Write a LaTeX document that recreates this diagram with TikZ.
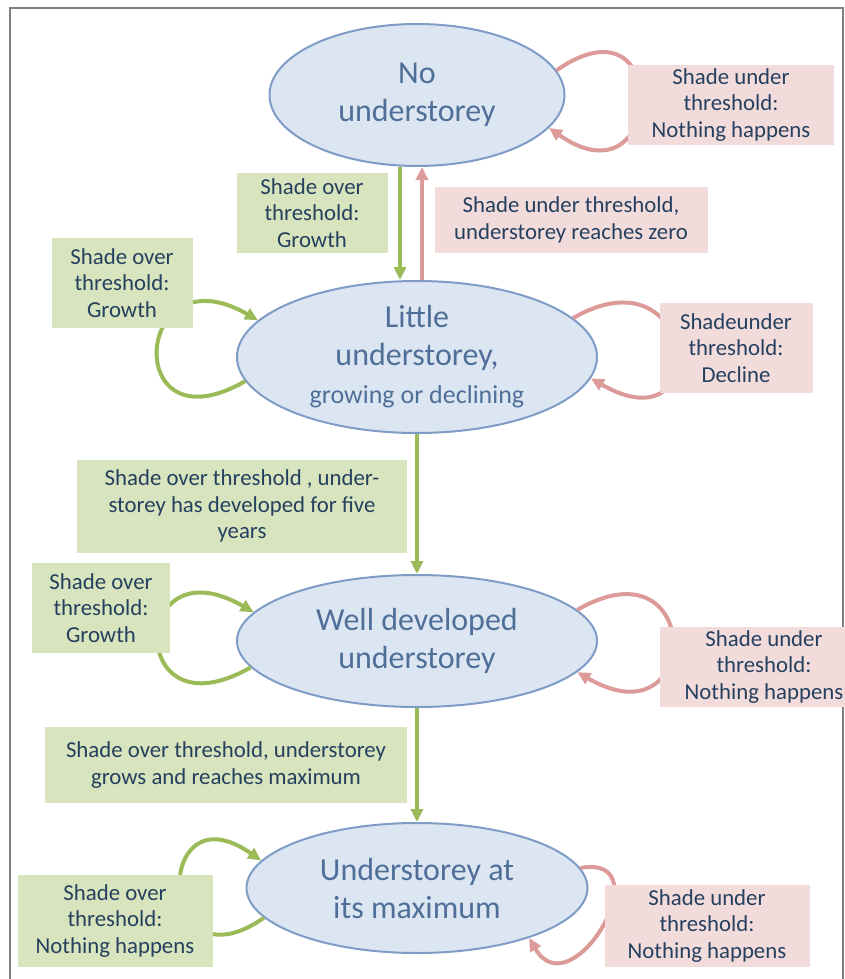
\documentclass[tikz,border=0pt]{standalone}
\usepackage{fontspec}
\setmainfont{Carlito}
\usepackage{xcolor}
\usepackage{tikz}
\usetikzlibrary{positioning, arrows.meta, shapes.geometric}
\definecolor{ellfill}{HTML}{DCE6F2}
\definecolor{elldraw}{HTML}{7F9CC6}
\definecolor{elltext}{HTML}{4F6F98}
\definecolor{greenfill}{HTML}{D7E4BD}
\definecolor{redfill}{HTML}{F2DCDB}
\definecolor{greenline}{HTML}{9BBB59}
\definecolor{redline}{HTML}{DC9A98}
\definecolor{labeltext}{HTML}{25405F}
\definecolor{framegray}{HTML}{808080}

\begin{document}
\begin{tikzpicture}[
    x=1pt, y=1pt,
    state/.style={
        ellipse,
        draw=elldraw,
        line width=2pt,
        fill=ellfill,
        text=elltext,
        align=center,
        inner sep=0pt,
        font=\fontsize{32}{38}\selectfont
    },
    gbox/.style={fill=greenfill, text=labeltext, align=center, inner sep=0pt,
        font=\fontsize{22.8}{26.5}\selectfont},
    rbox/.style={gbox, fill=redfill},
    garrow/.style={-{Triangle[length=13pt,width=12pt]}, line width=4pt, draw=greenline},
    rarrow/.style={garrow, draw=redline}
]

\useasboundingbox (0,0) rectangle (845,-979);
\draw[framegray, line width=1.8pt] (10,-995) -- (10,-8) -- (843,-8) -- (843,-995);

\node[state, minimum width=295pt, minimum height=142pt] (none) at (417,-95) {No\\understorey};
\node[state, minimum width=360pt, minimum height=152pt] (little) at (417,-357) {Little\\understorey,\\{\fontsize{26}{30}\selectfont growing or declining}};
\node[state, minimum width=360pt, minimum height=132pt] (welldev) at (417,-641) {Well developed\\understorey};
\node[state, minimum width=341pt, minimum height=130pt] (maxim) at (417,-888) {Understorey at\\its maximum};

\draw[garrow] ([xshift=-17pt]none.south) -- ([xshift=-17pt]little.north);
\draw[rarrow] ([xshift=5pt]little.north) -- ([xshift=5pt]none.south);
\draw[garrow] (little) -- (welldev);
\draw[garrow] (welldev) -- (maxim);

\draw[rarrow] (none.10) to[out=35, in=-35, distance=142pt] (none.-14);
\draw[rarrow] (little.14) to[out=30, in=-30, distance=144pt] (little.-7);
\draw[garrow] (little.188) to[out=210, in=150, distance=144pt] (little.167);
\draw[garrow] (welldev.189) to[out=210, in=150, distance=144pt] (welldev.170);
\draw[rarrow] (welldev.11) to[out=30, in=-30, distance=146pt] (welldev.-11);
\draw[garrow] (maxim.191) to[out=215, in=145, distance=133pt] (maxim.170);
\draw[rarrow] (maxim.7) to[out=10, in=-60, distance=85pt] (maxim.-24);

\node[rbox, minimum width=206pt, minimum height=80pt] (rNone) at (731,-105) {Shade under\\threshold:\\Nothing happens};
\node[gbox, minimum width=151pt, minimum height=80pt] (gNone) at (312,-213) {Shade over\\threshold:\\Growth};
\node[rbox, minimum width=273pt, minimum height=66pt] (rZero) at (571,-220) {Shade under threshold,\\understorey reaches zero};
\node[gbox, minimum width=141pt, minimum height=90pt] (gLittle) at (122,-283) {Shade over\\threshold:\\Growth};
\node[rbox, minimum width=153pt, minimum height=90pt] (rLittle) at (736,-348) {Shadeunder\\threshold:\\Decline};
\node[gbox, minimum width=330pt, minimum height=93pt] (gFive) at (242,-506) {Shade over threshold , under-\\storey has developed for five\\years};
\node[gbox, minimum width=138pt, minimum height=90pt] (gWell) at (101,-608) {Shade over\\threshold:\\Growth};
\node[rbox, minimum width=208pt, minimum height=80pt] (rWell) at (764,-667) {Shade under\\threshold:\\Nothing happens};
\node[gbox, minimum width=362pt, minimum height=76pt] (gMax) at (226,-765) {Shade over threshold, understorey\\grows and reaches maximum};
\node[gbox, minimum width=195pt, minimum height=92pt] (gMaxLoop) at (115,-921) {Shade over\\threshold:\\Nothing happens};
\node[rbox, minimum width=205pt, minimum height=82pt] (rMax) at (707,-926) {Shade under\\threshold:\\Nothing happens};

\end{tikzpicture}
\end{document}
